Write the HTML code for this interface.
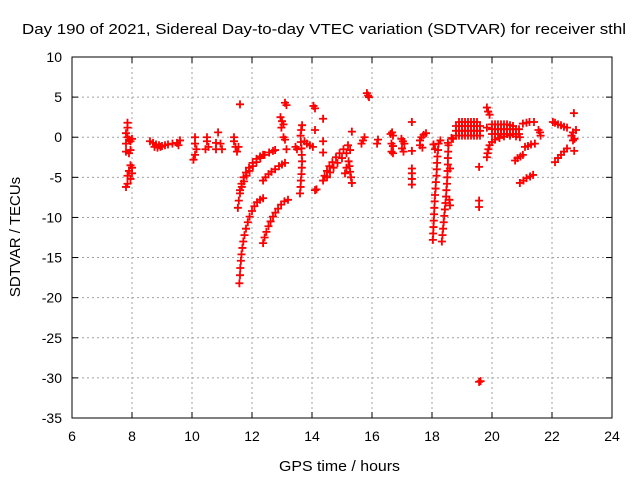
<!DOCTYPE html>
<html><head><meta charset="utf-8"><style>
html,body{margin:0;padding:0;background:#fff;}
svg{display:block;font-family:"Liberation Sans",sans-serif;}
</style></head><body>
<svg id="chart" width="640" height="480" viewBox="0 0 640 480">
<rect width="640" height="480" fill="#fff"/>
<g id="grid"></g>
<g id="ticks"></g>
<rect x="72" y="57" width="540" height="361" fill="none" stroke="#000" stroke-width="1"/>
<g id="points"></g>
<text x="22" y="34" font-size="15" textLength="604" lengthAdjust="spacingAndGlyphs">Day 190 of 2021, Sidereal Day-to-day VTEC variation (SDTVAR) for receiver sthl</text>
<text x="279" y="471" font-size="15" textLength="121" lengthAdjust="spacingAndGlyphs">GPS time / hours</text>
<text transform="translate(20,237) rotate(-90)" font-size="15" text-anchor="middle">SDTVAR / TECUs</text>
</svg>
<script>
const xTicks=[6,8,10,12,14,16,18,20,22,24];
const yTicks=[10,5,0,-5,-10,-15,-20,-25,-30,-35];
const pts=[
[7.85,1.8],[7.85,1.2],[7.8,0.5],[7.85,0],[7.9,-0.3],[7.8,-0.8],[7.95,-0.5],[7.8,-1.8],[7.9,-2],[7.95,-1.6],[8.0,-0.2],
[7.95,-3.5],[7.9,-4.2],[7.85,-4.8],[7.95,-5.2],[7.85,-5.8],[7.8,-6.2],[8.0,-4.5],[8.0,-3.8],
[8.6,-0.5],[8.7,-0.7],[8.8,-0.9],[8.9,-1.0],[9.0,-1.1],[9.1,-1.0],[8.75,-1.2],[8.85,-1.3],[8.95,-1.2],[9.2,-0.9],[9.35,-0.8],[9.5,-0.7],[9.55,-1.0],[9.6,-0.4],
[10.1,0],[10.1,-0.8],[10.15,-1.5],[10.1,-2.2],[10.05,-2.8],[10.5,0],[10.5,-0.5],[10.55,-1.2],[10.45,-1.5],[10.87,0.6],[10.8,-0.7],[10.8,-1.5],[10.95,-0.8],[11.0,-1.5],[11.4,0],[11.4,-0.5],[11.45,-1.2],[11.5,-1.8],[11.55,-1.2],[11.6,4.1],
[11.58,-18.2],[11.6,-17.2],[11.61,-16.3],[11.63,-15.4],[11.65,-14.6],[11.68,-13.8],[11.71,-13.0],[11.75,-12.2],[11.8,-11.4],[11.86,-10.6],[11.92,-9.9],[12.0,-9.2],[12.08,-8.6],[12.17,-8.1],[12.27,-7.8],[12.37,-7.6],
[12.37,-13.2],[12.42,-12.5],[12.48,-11.8],[12.55,-11.1],[12.62,-10.5],[12.7,-9.9],[12.78,-9.4],[12.87,-8.9],[12.97,-8.4],[13.08,-8.0],[13.2,-7.8],
[11.53,-8.8],[11.56,-7.9],[11.6,-7.0],[11.66,-6.2],[11.73,-5.5],[11.82,-4.8],[11.92,-4.2],[12.03,-3.6],[12.15,-3.1],[12.28,-2.6],[12.42,-2.2],[12.57,-1.9],[12.7,-1.7],[12.77,-1.6],
[11.6,-6.6],[11.65,-5.8],[11.72,-5.0],[11.8,-4.4],[11.9,-3.8],[12.02,-3.2],[12.15,-2.7],[12.27,-2.4],[12.37,-2.2],
[12.37,-5.4],[12.45,-5.0],[12.55,-4.6],[12.65,-4.3],[12.77,-4.0],[12.9,-3.6],[13.0,-3.4],[13.1,-3.2],
[12.95,2.5],[13.0,2.0],[13.05,1.6],[12.98,1.2],[13.1,4.3],[13.15,4.0],[13.05,0],[13.1,-0.3],[13.15,-1.5],
[13.6,-7.0],[13.62,-6.2],[13.63,-5.4],[13.65,-4.6],[13.66,-3.8],[13.67,-3.0],[13.66,-2.2],[13.65,-1.4],[13.63,-0.6],[13.62,0.2],[13.64,0.9],[13.67,1.5],[13.75,-0.5],[13.83,-0.8],[13.93,-1.0],[14.03,-1.2],[13.5,-1.5],[13.45,-1.2],
[14.37,-5.4],[14.42,-4.8],[14.5,-4.2],[14.58,-3.6],[14.68,-3.1],[14.8,-2.5],[14.92,-2.0],[15.05,-1.5],[15.2,-1.0],
[14.5,-5.0],[14.6,-4.4],[14.72,-3.8],[14.85,-3.2],[15.0,-2.6],[15.15,-2.0],[15.27,-1.6],
[15.33,-5.7],[15.3,-5.0],[15.27,-4.3],[15.25,-3.6],[15.22,-3.0],[15.15,-3.8],[15.1,-4.5],
[14.1,3.6],[14.05,3.9],[14.37,2.3],[14.1,0.9],[14.37,-0.5],[14.37,-1.9],[14.1,-6.6],[14.15,-6.5],
[15.83,5.5],[15.87,5.2],[15.9,5.0],[15.7,-0.4],[15.75,0],[15.65,-0.8],[16.17,-0.8],[16.2,-0.3],[15.33,0.7],
[16.62,0.4],[16.67,0.6],[16.7,0.2],[16.65,-0.8],[16.7,-1.1],[16.65,-1.8],[16.7,-2.0],[16.98,-0.2],[17.03,-0.5],[17.08,-0.8],[17.0,-1.4],[17.05,-1.8],[17.6,-0.4],[17.65,0],[17.72,0.3],[17.8,0.5],[17.6,-1.0],[17.68,-1.3],[17.33,1.9],[17.33,-1.7],[17.33,-3.9],[17.33,-4.5],[17.33,-5.2],[17.33,-5.9],
[18.03,-12.8],[18.04,-12.0],[18.05,-11.2],[18.06,-10.4],[18.07,-9.6],[18.08,-8.8],[18.09,-8.0],[18.1,-7.2],[18.12,-6.4],[18.13,-5.6],[18.15,-4.8],[18.16,-4.0],[18.17,-3.2],[18.18,-2.4],[18.2,-1.6],[18.22,-0.8],[18.28,-0.4],[18.05,-0.9],[18.1,-1.5],
[18.33,-13.0],[18.35,-12.2],[18.37,-11.4],[18.39,-10.6],[18.41,-9.8],[18.43,-9.0],[18.45,-8.2],[18.47,-7.4],[18.48,-6.6],[18.5,-5.8],[18.51,-5.0],[18.52,-4.2],[18.53,-3.4],[18.53,-2.6],[18.54,-1.8],[18.55,-1.0],[18.53,-0.7],[18.6,-3.9],[18.6,-8.5],[18.58,-7.8],[18.65,-0.1],
[18.8,0.2],[18.9,0.2],[19.0,0.2],[19.1,0.2],[19.2,0.2],[19.3,0.2],[19.4,0.2],[19.5,0.2],[19.6,0.2],
[18.8,0.8],[18.9,0.8],[19.0,0.8],[19.1,0.8],[19.2,0.8],[19.3,0.8],[19.4,0.8],[19.5,0.8],[19.6,0.8],
[18.8,1.4],[18.9,1.4],[19.0,1.4],[19.1,1.4],[19.2,1.4],[19.3,1.4],[19.4,1.4],[19.5,1.4],[19.6,1.4],
[18.9,1.9],[19.0,1.9],[19.1,1.9],[19.2,1.9],[19.3,1.9],[19.4,1.9],[19.5,1.9],[18.7,-0.2],
[19.83,1.2],[19.57,-3.7],[19.57,-7.9],[19.57,-8.7],[19.57,-30.5],[19.62,-30.4],
[20.0,0.4],[20.1,0.4],[20.2,0.4],[20.3,0.4],[20.4,0.4],[20.5,0.4],[20.6,0.4],[20.7,0.4],[20.8,0.4],[20.9,0.4],
[20.0,1.0],[20.1,1.0],[20.2,1.0],[20.3,1.0],[20.4,1.0],[20.5,1.0],[20.6,1.0],[20.7,1.0],[20.8,1.0],[20.9,1.0],
[20.0,1.6],[20.1,1.6],[20.2,1.6],[20.3,1.6],[20.4,1.6],[20.5,1.6],[20.6,1.5],[20.7,1.4],
[19.83,3.7],[19.87,3.2],[19.92,2.8],
[19.83,-2.5],[19.85,-2.0],[19.88,-1.5],[19.92,-1.0],[20.0,-0.6],[20.1,-0.3],[20.25,-0.1],[20.4,0.1],[20.6,0.2],[20.8,0.1],[20.93,0],
[21.03,1.7],[21.15,1.8],[21.25,1.9],[21.4,1.9],[21.6,0.6],[21.62,0.2],[21.55,0.9],[21.1,-1.2],[21.2,-1.1],[21.3,-0.9],[21.43,-0.8],[20.77,-2.9],[20.85,-2.6],[20.95,-2.4],[21.03,-2.2],[20.93,-5.7],[21.05,-5.4],[21.15,-5.1],[21.27,-4.9],[21.37,-4.7],
[22.03,1.9],[22.1,1.8],[22.2,1.6],[22.3,1.5],[22.4,1.3],[22.5,1.2],[22.7,0.6],[22.65,0.2],[22.75,-0.2],[22.7,-0.4],[22.8,0.9],[22.73,3.0],[22.74,-1.7],[22.1,-3.1],[22.2,-2.6],[22.3,-2.2],[22.4,-1.8],[22.5,-1.4]
];
const NS="http://www.w3.org/2000/svg";
const X0=72,X1=612,Y0=57,Y1=418;
function sx(h){return X0+(h-6)/(24-6)*(X1-X0);}
function sy(v){return Y0+(10-v)/(10-(-35))*(Y1-Y0);}
const grid=document.getElementById('grid'),ticks=document.getElementById('ticks'),pg=document.getElementById('points');
function mk(tag,attrs,parent){const e=document.createElementNS(NS,tag);for(const k in attrs)e.setAttribute(k,attrs[k]);parent.appendChild(e);return e;}
xTicks.forEach(t=>{const x=sx(t);
 if(t>6&&t<24){const l=mk('line',{x1:x,x2:x,y1:Y0,y2:Y1,stroke:'#a0a0a0','stroke-dasharray':'2,3'},grid);
 
 }
 mk('line',{x1:x,x2:x,y1:Y1,y2:Y1-6,stroke:'#000'},ticks);
 mk('line',{x1:x,x2:x,y1:Y0,y2:Y0+6,stroke:'#000'},ticks);
 const tx=mk('text',{x:x,y:Y1+23,'font-size':14,'text-anchor':'middle'},ticks);tx.textContent=t;
 
 
});
yTicks.forEach(t=>{const y=sy(t);
 if(t<10&&t>-35){const l=mk('line',{x1:X0,x2:X1,y1:y,y2:y,stroke:'#a0a0a0','stroke-dasharray':'2,3'},grid);
 
 }
 mk('line',{x1:X0,x2:X0+6,y1:y,y2:y,stroke:'#000'},ticks);
 mk('line',{x1:X1,x2:X1-6,y1:y,y2:y,stroke:'#000'},ticks);
 const tx=mk('text',{x:X0-10,y:y+5,'font-size':14,'text-anchor':'end'},ticks);tx.textContent=t;
 
 
});
pts.forEach(p=>{const x=sx(p[0]),y=sy(p[1]);
 const e=mk('path',{d:`M${x-4},${y}h8M${x},${y-4}v8`,stroke:'#ff0000','stroke-width':1.8,fill:'none'},pg);
 
 
});
</script>
</body></html>
